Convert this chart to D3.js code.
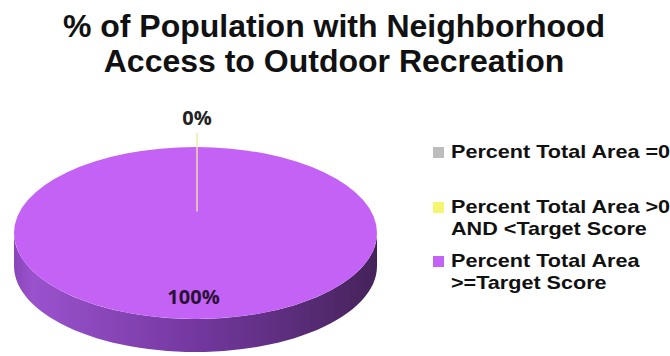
<!DOCTYPE html>
<html><head><meta charset="utf-8">
<script src="https://cdn.jsdelivr.net/npm/d3@7/dist/d3.min.js"></script>
<style>body{margin:0;background:#fff}svg{display:block}text{font-family:"Liberation Sans",Arial,sans-serif;font-weight:bold}</style>
</head><body><svg id="c" width="670" height="356"></svg>
<script>
const categories = ["Percent Total Area =0", "Percent Total Area >0 AND <Target Score", "Percent Total Area >=Target Score"];
const legendLines = [["Percent Total Area =0"], ["Percent Total Area >0", "AND <Target Score"], ["Percent Total Area", ">=Target Score"]];
const values = [0, 0, 100];
const sliceLabels = [null, "0%", "100%"];
const colors = ["#bdbdbd", "#f5f570", "#c462f6"];
const titleLines = ["% of Population with Neighborhood", "Access to Outdoor Recreation"];

const svg = d3.select("#c");
svg.append("g").selectAll("text").data(titleLines).join("text")
  .attr("x", 334).attr("y", (d,i)=>37+i*35).attr("text-anchor","middle")
  .attr("font-size", 32).attr("fill","#111").text(d=>d);

const cx = 195.5, cy = 233, rx = 181.5, ry = 86, depth = 33;
const defs = svg.append("defs");
const grad = defs.append("linearGradient").attr("id","side").attr("x1","0").attr("x2","1").attr("y1","0").attr("y2","0");
grad.append("stop").attr("offset","0").attr("stop-color","#8a45ba");
grad.append("stop").attr("offset","0.05").attr("stop-color","#9a52cd");
grad.append("stop").attr("offset","0.5").attr("stop-color","#7438a0");
grad.append("stop").attr("offset","1").attr("stop-color","#45235a");

const pie = d3.pie().sort(null).value(d=>d)(values);
const k = ry/rx;
const pt = (a, dy=0) => [cx + rx*Math.sin(a), cy - ry*Math.cos(a) + dy];

const sideG = svg.append("g");
pie.forEach((s,i)=>{
  const a0 = Math.max(s.startAngle, Math.PI/2), a1 = Math.min(s.endAngle, 3*Math.PI/2);
  if (a1 <= a0) return;
  const n = 60, p = d3.path();
  const top = d3.range(n+1).map(j=>pt(a0+(a1-a0)*j/n));
  const bot = top.map(q=>[q[0], q[1]+depth]).reverse();
  top.concat(bot).forEach((q,j)=> j? p.lineTo(q[0],q[1]) : p.moveTo(q[0],q[1]));
  p.closePath();
  sideG.append("path").attr("d", p.toString()).attr("fill", i===2 ? "url(#side)" : colors[i]);
});

const arc = d3.arc().innerRadius(0).outerRadius(rx);
svg.append("g").attr("transform",`translate(${cx},${cy}) scale(1,${k})`)
  .selectAll("path").data(pie).join("path")
  .attr("d", arc).attr("fill",(d,i)=>colors[i]);

pie.forEach((s,i)=>{
  if (!sliceLabels[i]) return;
  if (s.value === 0) {
    const a = s.startAngle;
    const e = pt(a), inner = [cx + rx*0.25*Math.sin(a), cy - ry*0.25*Math.cos(a)];
    svg.append("line").attr("x1",inner[0]+1.5).attr("y1",inner[1]).attr("x2",e[0]+1.5).attr("y2",e[1]-14)
      .attr("stroke","#f3eaa0").attr("stroke-width",1.5).attr("opacity",0.9);
    svg.append("text").attr("x",e[0]+1.5).attr("y",e[1]-22).attr("text-anchor","middle")
      .style("font-family","'Open Sans',sans-serif")
      .attr("font-size",20).attr("fill","#222").text(sliceLabels[i]);
  } else {
    svg.append("text").attr("x",cx-2).attr("y",cy+71).attr("text-anchor","middle")
      .style("font-family","'Open Sans',sans-serif")
      .attr("font-size",20).attr("fill","#2a1236").text(sliceLabels[i]);
  }
});

const lg = svg.append("g");
const legY = [158, 213, 267];
legendLines.forEach((lines,i)=>{
  lg.append("rect").attr("x",433).attr("y",legY[i]-11).attr("width",11).attr("height",11).attr("fill",colors[i]);
  lines.forEach((t,j)=>{
    lg.append("text").attr("transform",`translate(451,${legY[i]+j*22}) scale(1.2,1)`)
      .attr("font-size",18).attr("fill","#111").text(t);
  });
});
</script></body></html>
